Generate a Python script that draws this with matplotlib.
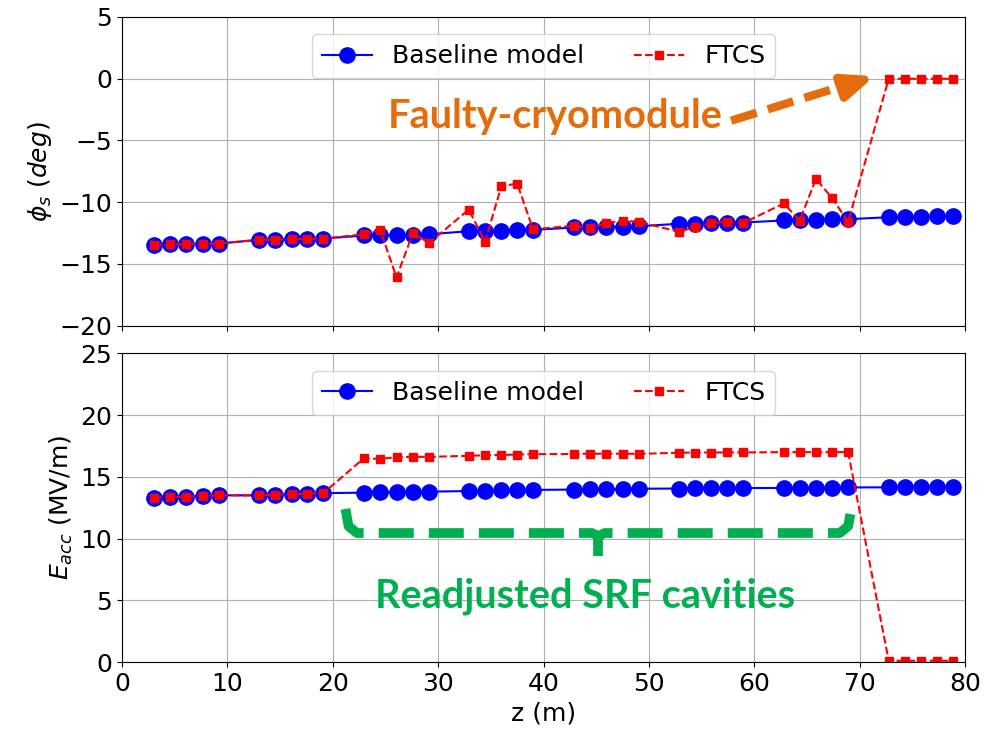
import numpy as np
import matplotlib
matplotlib.use('Agg')
import matplotlib.pyplot as plt

# cavity positions along the linac (m)
z = [3.05, 4.55, 6.1, 7.65, 9.2,
     13.0, 14.55, 16.1, 17.6, 19.1,
     22.95, 24.5, 26.05, 27.6, 29.15,
     32.9, 34.45, 36.0, 37.5, 39.0,
     42.9, 44.4, 45.95, 47.5, 49.05,
     52.85, 54.4, 55.9, 57.45, 58.95,
     62.8, 64.3, 65.85, 67.4, 68.9,
     72.75, 74.3, 75.8, 77.35, 78.85]

# synchronous phase (deg)
phi_base = [-13.45, -13.42, -13.4, -13.38, -13.35,
            -13.05, -13.03, -13.0, -12.98, -12.95,
            -12.7, -12.68, -12.65, -12.62, -12.6,
            -12.35, -12.32, -12.3, -12.28, -12.25,
            -12.05, -12.02, -12.0, -11.98, -11.95,
            -11.75, -11.73, -11.7, -11.68, -11.65,
            -11.48, -11.45, -11.43, -11.4, -11.38,
            -11.22, -11.2, -11.18, -11.16, -11.14]
phi_ftcs = [-13.45, -13.42, -13.4, -13.38, -13.35,
            -13.05, -13.03, -13.0, -12.98, -12.95,
            -12.6, -12.25, -16.1, -12.5, -13.3,
            -10.6, -13.2, -8.7, -8.5, -12.2,
            -11.9, -12.1, -11.7, -11.5, -11.6,
            -12.4, -12.0, -11.7, -11.6, -11.7,
            -10.1, -11.5, -8.1, -9.7, -11.6,
            0.0, 0.0, 0.0, 0.0, 0.0]

# accelerating gradient (MV/m)
e_base = [13.3, 13.35, 13.4, 13.45, 13.5,
          13.5, 13.55, 13.6, 13.62, 13.68,
          13.72, 13.74, 13.76, 13.78, 13.8,
          13.85, 13.88, 13.9, 13.92, 13.94,
          13.97, 13.99, 14.0, 14.02, 14.04,
          14.05, 14.06, 14.07, 14.08, 14.09,
          14.1, 14.11, 14.12, 14.13, 14.14,
          14.15, 14.16, 14.17, 14.18, 14.19]
e_ftcs = [13.3, 13.35, 13.4, 13.45, 13.5,
          13.5, 13.55, 13.6, 13.62, 13.68,
          16.5, 16.45, 16.6, 16.62, 16.62,
          16.7, 16.75, 16.78, 16.8, 16.84,
          16.85, 16.88, 16.86, 16.88, 16.86,
          16.95, 16.97, 16.97, 16.98, 16.98,
          17.0, 17.0, 17.0, 17.0, 17.0,
          0.1, 0.1, 0.1, 0.1, 0.1]

plt.rcParams['font.size'] = 18

fig, (ax1, ax2) = plt.subplots(2, 1, figsize=(9.96, 7.32), dpi=100, sharex=True)
fig.subplots_adjust(left=0.1225, right=0.969, top=0.9768, bottom=0.0956, hspace=0.09)

ax1.plot(z, phi_base, 'b-o', markersize=11, linewidth=1.5, label='Baseline model')
ax1.plot(z, phi_ftcs, 'r--s', markersize=6, linewidth=1.5, label='FTCS')
ax1.set_ylim(-20, 5)
ax1.set_yticks([-20, -15, -10, -5, 0, 5])
ax1.set_ylabel(r'$\phi_s$ $(deg)$')
ax1.grid(True)
ax1.legend(loc='upper center', ncol=2, fontsize=18, borderaxespad=0.7)

ax2.plot(z, e_base, 'b-o', markersize=11, linewidth=1.5, label='Baseline model')
ax2.plot(z, e_ftcs, 'r--s', markersize=6, linewidth=1.5, label='FTCS')
ax2.set_ylim(0, 25)
ax2.set_xlim(0, 80)
ax2.set_xticks(range(0, 81, 10))
ax2.set_ylabel(r'$E_{acc}$ (MV/m)')
ax2.set_xlabel('z (m)')
ax2.grid(True)
ax2.legend(loc='upper center', ncol=2, fontsize=18, borderaxespad=0.7)

# faulty cryomodule annotation
orange = '#E46C0A'
ax1.text(41.1, -3.1, 'Faulty-cryomodule', color=orange, fontsize=28.5,
         fontweight='bold', family='Lato', ha='center', va='center')
ax1.plot([57.8, 69.3], [-3.4, -0.35], color=orange, linewidth=6,
         dashes=(3.2, 1.4), solid_capstyle='butt', dash_capstyle='butt')
ax1.annotate('', xy=(71.4, 0.2), xytext=(69.0, -0.5),
             arrowprops=dict(arrowstyle='-|>,head_length=1.2,head_width=0.5',
                             mutation_scale=15, color=orange, lw=6,
                             shrinkA=0, shrinkB=0))

# readjusted cavities bracket
green = '#00B050'
bx = [21.2, 21.5, 22.3, 44.6, 45.2, 45.8, 68.1, 68.9, 69.2]
by = [12.4, 11.0, 10.45, 10.45, 10.2, 10.45, 10.45, 11.0, 12.4]
ax2.plot(bx, by, color=green, linewidth=7, dashes=(3.6, 1.55),
         solid_capstyle='butt', dash_capstyle='butt')
ax2.plot([45.2, 45.2], [10.4, 8.6], color=green, linewidth=7, solid_capstyle='butt')
ax2.text(43.9, 5.35, 'Readjusted SRF cavities', color=green, fontsize=28.5,
         fontweight='bold', family='Lato', ha='center', va='center')

fig.savefig('out.png', dpi=100)
